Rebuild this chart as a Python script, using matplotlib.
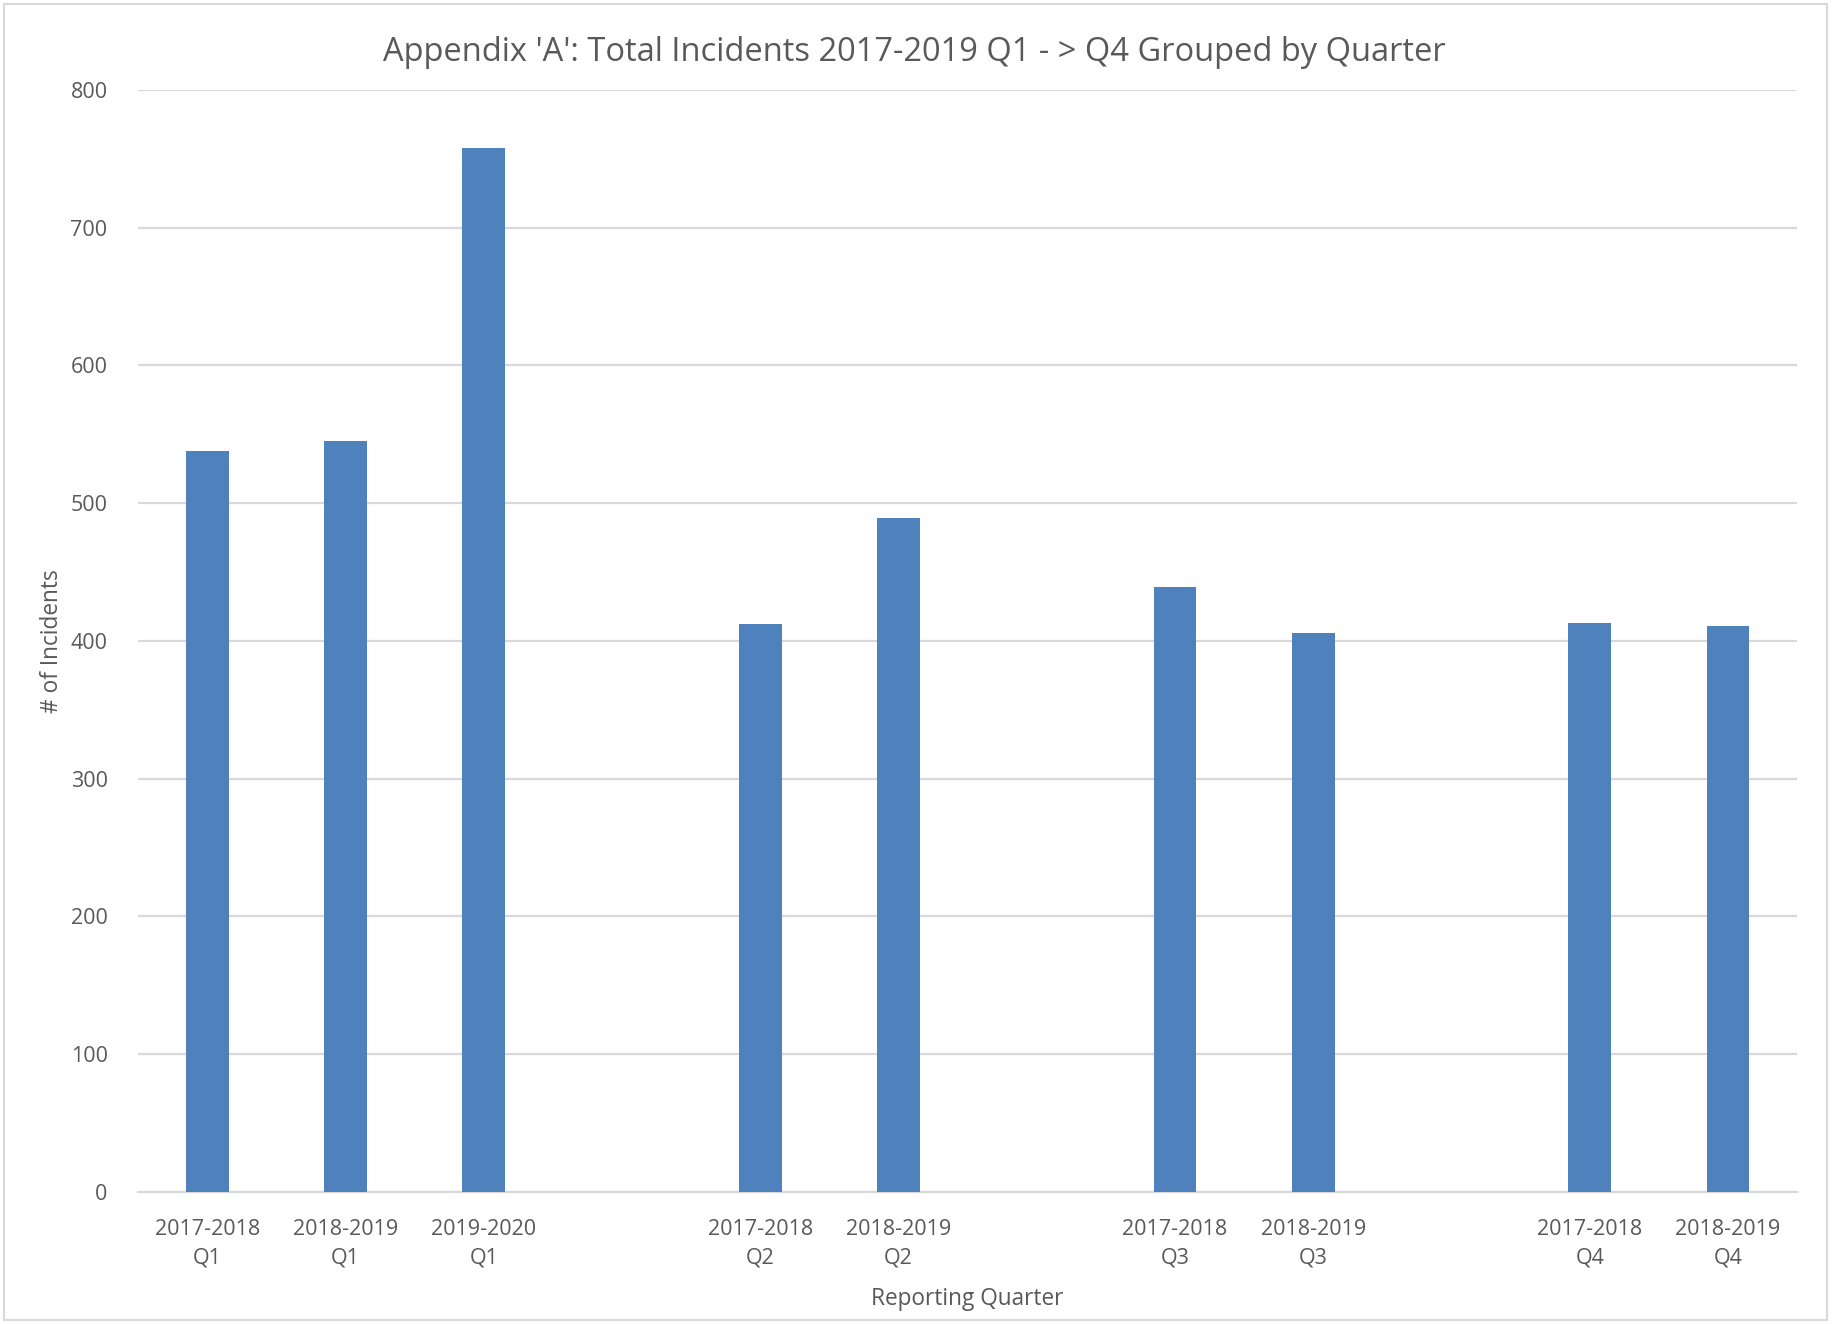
import matplotlib.pyplot as plt
from matplotlib.patches import Rectangle

# --- Data ---
quarters = ["Q1", "Q2", "Q3", "Q4"]
years_q1 = ["2017-2018", "2018-2019", "2019-2020"]
years_q2 = ["2017-2018", "2018-2019"]
years_q3 = ["2017-2018", "2018-2019"]
years_q4 = ["2017-2018", "2018-2019"]
values_q1 = [538, 545, 758]
values_q2 = [412, 489]
values_q3 = [439, 406]
values_q4 = [413, 411]

groups = [
    (quarters[0], years_q1, values_q1),
    (quarters[1], years_q2, values_q2),
    (quarters[2], years_q3, values_q3),
    (quarters[3], years_q4, values_q4),
]

BAR = "#4F81BD"
TEXT = "#595959"
GRID = "#D9D9D9"

plt.rcParams["font.family"] = ["Open Sans", "DejaVu Sans"]

# lay the groups out as category slots, one empty slot between groups
xs, hs, labels = [], [], []
slot = 0
for q, years, vals in groups:
    for y, v in zip(years, vals):
        xs.append(slot)
        hs.append(v)
        labels.append(f"{y}\n{q}")
        slot += 1
    slot += 1
n_slots = slot - 1

fig = plt.figure(figsize=(18.32, 13.24), dpi=100)
ax = fig.add_axes([0.0754, 0.100, 0.9056, 0.832])

ax.bar(xs, hs, width=0.31, color=BAR, zorder=3)

ax.set_xlim(-0.5, n_slots - 0.5)
ax.set_ylim(0, 800)
ax.set_yticks(range(0, 801, 100))
ax.set_xticks(xs)
ax.set_xticklabels(labels, linespacing=1.45)

ax.grid(axis="y", color=GRID, linewidth=1.6, zorder=0)
for s in ["top", "right", "left"]:
    ax.spines[s].set_visible(False)
ax.spines["bottom"].set_color(GRID)
ax.spines["bottom"].set_linewidth(1.6)
ax.tick_params(axis="both", length=0, labelsize=15.5, labelcolor=TEXT)
ax.tick_params(axis="y", pad=22)
ax.tick_params(axis="x", pad=20)

ax.set_xlabel("Reporting Quarter", fontsize=16.3, color=TEXT, labelpad=13)
ax.set_ylabel("# of Incidents", fontsize=16.3, color=TEXT, labelpad=5)

fig.text(0.499, 0.960, "Appendix 'A': Total Incidents 2017-2019 Q1 - > Q4 Grouped by Quarter",
         ha="center", va="center", fontsize=23.5, color=TEXT)

# light chart-area border
fig.patches.append(Rectangle((0.002, 0.003), 0.995, 0.994, transform=fig.transFigure,
                             fill=False, edgecolor=GRID, linewidth=1.5))

fig.savefig("out.png", dpi=100)
